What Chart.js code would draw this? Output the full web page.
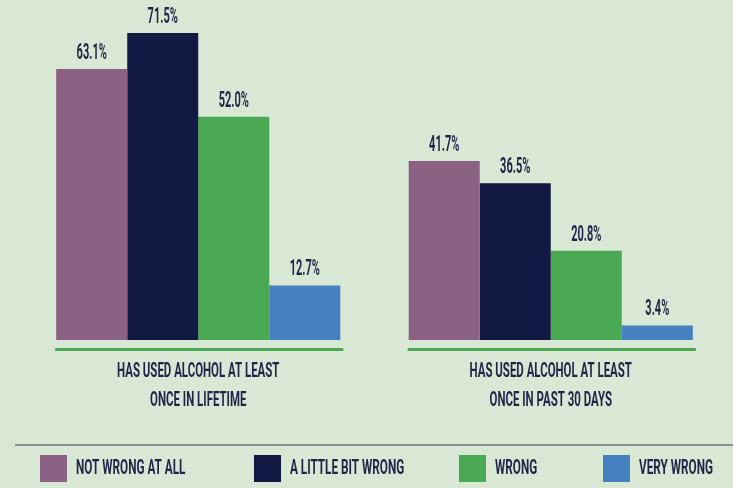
<!DOCTYPE html>
<html>
<head>
<meta charset="utf-8">
<script src="https://cdn.jsdelivr.net/npm/chart.js@4/dist/chart.umd.min.js"></script>
<style>
  html, body { margin: 0; padding: 0; background: #d9e7d5; }
  #wrap { position: relative; width: 733px; height: 488px; }
</style>
</head>
<body>
<div id="wrap"><canvas id="alcohol-chart" width="733" height="488"></canvas></div>
<script>
// categories + series
var categories = [
    ["HAS USED ALCOHOL AT LEAST", "ONCE IN LIFETIME"],
    ["HAS USED ALCOHOL AT LEAST", "ONCE IN PAST 30 DAYS"]
];
var seriesNames = ["NOT WRONG AT ALL", "A LITTLE BIT WRONG", "WRONG", "VERY WRONG"];
var notWrongAtAll = [63.1, 41.7];
var littleBitWrong = [71.5, 36.5];
var wrong = [52.0, 20.8];
var veryWrong = [12.7, 3.4];

var colors = ['#8c6284', '#111942', '#4aa952', '#4581c1'];
var textColor = '#1f2548';
var FONT = '"Roboto", "Liberation Sans", sans-serif';

// draws text squeezed horizontally (the original uses a condensed face)
function condText(ctx, text, x, y, sx) {
    ctx.save();
    ctx.translate(x, y);
    ctx.scale(sx, 1);
    ctx.fillText(text, 0, 0);
    ctx.restore();
}

var labelsPlugin = {
    id: 'labelsPlugin',
    afterDatasetsDraw: function(chart) {
        var ctx = chart.ctx;
        var xScale = chart.scales.x;
        var base = chart.chartArea.bottom;
        ctx.save();
        ctx.fillStyle = textColor;

        // value labels above bars
        ctx.font = 'bold 22px ' + FONT;
        ctx.textAlign = 'center';
        ctx.textBaseline = 'alphabetic';
        chart.data.datasets.forEach(function(ds, di) {
            var meta = chart.getDatasetMeta(di);
            meta.data.forEach(function(bar, i) {
                condText(ctx, ds.data[i].toFixed(1) + '%', bar.x, bar.y - 10, 0.5);
            });
        });

        // green underline + category text
        var first = chart.getDatasetMeta(0).data;
        var last = chart.getDatasetMeta(chart.data.datasets.length - 1).data;
        chart.data.labels.forEach(function(lbl, i) {
            var left = first[i].x - first[i].width / 2 - 1;
            var right = last[i].x + last[i].width / 2 + 3;
            ctx.fillStyle = '#4aa952';
            ctx.fillRect(left, base + 8, right - left, 3);

            ctx.fillStyle = textColor;
            ctx.font = 'bold 21px ' + FONT;
            ctx.textBaseline = 'middle';
            var cx = xScale.getPixelForValue(i);
            lbl.forEach(function(line, j) {
                condText(ctx, line, cx, base + 32 + j * 29, 0.545);
            });
        });

        // divider
        ctx.fillStyle = '#8d918c';
        ctx.fillRect(15, 444, 718, 2);

        // legend
        var xs = [40, 254, 459, 603];
        ctx.font = 'bold 21px ' + FONT;
        ctx.textAlign = 'left';
        ctx.textBaseline = 'middle';
        chart.data.datasets.forEach(function(ds, di) {
            ctx.fillStyle = ds.backgroundColor;
            ctx.fillRect(xs[di], 455, 27, 27);
            ctx.fillStyle = textColor;
            condText(ctx, ds.label, xs[di] + 36, 469, 0.56);
        });
        ctx.restore();
    }
};

var ctx = document.getElementById('alcohol-chart');

var chartData = {
    labels: categories,
    datasets: [
        {label: seriesNames[0], data: notWrongAtAll, backgroundColor: colors[0]},
        {label: seriesNames[1], data: littleBitWrong, backgroundColor: colors[1]},
        {label: seriesNames[2], data: wrong, backgroundColor: colors[2]},
        {label: seriesNames[3], data: veryWrong, backgroundColor: colors[3]}
    ]
};

var chartOptions = {
    responsive: false,
    animation: false,
    layout: { padding: { top: 18, bottom: 148, left: 22, right: 6 } },
    categoryPercentage: 0.806,
    barPercentage: 1.0,
    plugins: {
        legend: { display: false },
        tooltip: { enabled: false }
    },
    scales: {
        x: { display: false },
        y: { display: false, min: 0, max: 75 }
    }
};

var barChart = new Chart(ctx, {
    type: 'bar',
    data: chartData,
    options: chartOptions,
    plugins: [labelsPlugin]
});
</script>
</body>
</html>
